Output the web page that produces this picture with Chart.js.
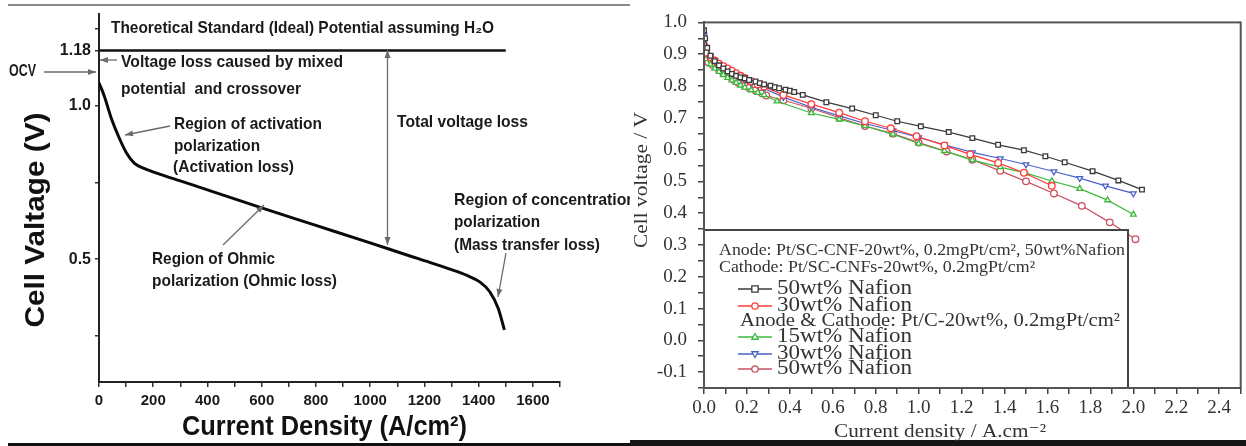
<!DOCTYPE html>
<html><head><meta charset="utf-8">
<script src="https://cdn.jsdelivr.net/npm/chart.js@4.4.1/dist/chart.umd.min.js"></script>
<style>
html,body{margin:0;padding:0;background:#fff;}
#wrap{position:relative;width:1246px;height:446px;overflow:hidden;background:#fff;}
#left{position:absolute;left:0;top:0;width:630px;height:446px;}
#right{position:absolute;left:630px;top:0;width:616px;height:446px;background:#fff;}
</style></head><body>
<div id="wrap">
<div id="left"><canvas id="c1" width="630" height="446"></canvas></div>
<div id="right"><canvas id="c2" width="616" height="446"></canvas></div>
</div>
<script>
// ---------- LEFT CHART DATA ----------
const leftCurrent = [0, 20, 45, 73, 102, 131, 170, 218, 300, 400, 600, 800, 1000, 1066, 1183, 1300, 1355, 1404, 1441, 1472, 1495];
const leftVoltage = [1.075, 1.03, 0.96, 0.898, 0.845, 0.812, 0.794, 0.779, 0.755, 0.726, 0.667, 0.61, 0.553, 0.534, 0.5, 0.466, 0.448, 0.426, 0.394, 0.34, 0.27];
const idealPotential = 1.18;
const idealCurrentRange = [0, 1500];
const leftYTickValues = [0.25, 0.5, 0.75, 1.0, 1.18, 1.25];
const leftYTickText = ['', '0.5', '', '1.0', '1.18', ''];

// ---------- RIGHT CHART DATA ----------
const scCnf50X = [0, 0.005, 0.015, 0.03, 0.05, 0.07, 0.09, 0.11, 0.13, 0.15, 0.17, 0.19, 0.21, 0.24, 0.26, 0.28, 0.31, 0.33, 0.35, 0.38, 0.40, 0.42, 0.46, 0.57, 0.69, 0.80, 0.90, 1.01, 1.14, 1.25, 1.37, 1.49, 1.59, 1.68, 1.81, 1.93, 2.04];
const scCnf50Y = [0.975, 0.95, 0.92, 0.895, 0.878, 0.865, 0.855, 0.846, 0.838, 0.832, 0.827, 0.824, 0.819, 0.814, 0.809, 0.805, 0.801, 0.796, 0.793, 0.788, 0.785, 0.781, 0.772, 0.749, 0.729, 0.708, 0.689, 0.673, 0.655, 0.636, 0.615, 0.598, 0.579, 0.56, 0.532, 0.503, 0.474];
const scCnf30X = [0, 0.01, 0.03, 0.05, 0.07, 0.09, 0.11, 0.13, 0.15, 0.17, 0.19, 0.22, 0.25, 0.28, 0.37, 0.50, 0.63, 0.75, 0.87, 0.99, 1.12, 1.24, 1.37, 1.49, 1.62];
const scCnf30Y = [0.93, 0.905, 0.89, 0.88, 0.87, 0.862, 0.855, 0.848, 0.84, 0.832, 0.825, 0.815, 0.805, 0.798, 0.772, 0.743, 0.716, 0.689, 0.667, 0.642, 0.613, 0.585, 0.558, 0.527, 0.486];
const ptc15X = [0, 0.01, 0.03, 0.05, 0.07, 0.09, 0.11, 0.13, 0.15, 0.17, 0.19, 0.22, 0.25, 0.28, 0.34, 0.50, 0.63, 0.75, 0.88, 1.00, 1.12, 1.25, 1.38, 1.50, 1.62, 1.75, 1.88, 2.00];
const ptc15Y = [0.917, 0.885, 0.868, 0.855, 0.845, 0.835, 0.826, 0.818, 0.81, 0.802, 0.795, 0.787, 0.779, 0.772, 0.752, 0.715, 0.695, 0.674, 0.648, 0.619, 0.596, 0.567, 0.545, 0.526, 0.501, 0.477, 0.441, 0.396];
const ptc30X = [0, 0.01, 0.03, 0.05, 0.07, 0.09, 0.11, 0.13, 0.15, 0.17, 0.19, 0.22, 0.25, 0.28, 0.37, 0.50, 0.63, 0.75, 0.88, 1.00, 1.12, 1.25, 1.38, 1.50, 1.63, 1.75, 1.87, 2.00];
const ptc30Y = [0.96, 0.92, 0.895, 0.88, 0.868, 0.858, 0.85, 0.842, 0.834, 0.826, 0.818, 0.808, 0.8, 0.792, 0.765, 0.733, 0.706, 0.682, 0.66, 0.638, 0.615, 0.591, 0.572, 0.553, 0.531, 0.51, 0.486, 0.462];
const ptc50X = [0, 0.01, 0.02, 0.04, 0.07, 0.09, 0.12, 0.14, 0.16, 0.19, 0.21, 0.24, 0.27, 0.29, 0.37, 0.50, 0.63, 0.75, 0.88, 1.00, 1.13, 1.25, 1.38, 1.50, 1.63, 1.76, 1.89, 2.01];
const ptc50Y = [0.9, 0.885, 0.875, 0.866, 0.85, 0.84, 0.829, 0.819, 0.81, 0.8, 0.794, 0.786, 0.777, 0.77, 0.755, 0.73, 0.70, 0.674, 0.65, 0.622, 0.594, 0.568, 0.533, 0.5, 0.462, 0.423, 0.371, 0.318];
const rightSeriesLabels = ['50wt% Nafion', '30wt% Nafion', '15wt% Nafion', '30wt% Nafion', '50wt% Nafion'];
const legendHeader1 = 'Anode: Pt/SC-CNF-20wt%, 0.2mgPt/cm², 50wt%Nafion';
const legendHeader2 = 'Cathode: Pt/SC-CNFs-20wt%, 0.2mgPt/cm²';
const legendHeader3 = 'Anode & Cathode: Pt/C-20wt%, 0.2mgPt/cm²';

function pts(xs, ys) { return xs.map((x, i) => ({ x: x, y: ys[i] })); }

function fitText(ctx, text, x, y, font, width, align, color) {
  ctx.save();
  ctx.font = font;
  ctx.fillStyle = color || '#1a1a1a';
  const w = ctx.measureText(text).width;
  const s = width ? width / w : 1;
  ctx.translate(x, y);
  ctx.scale(s, 1);
  ctx.textBaseline = 'middle';
  ctx.textAlign = align || 'left';
  ctx.fillText(text, 0, 0);
  ctx.restore();
}
function arrowHead(ctx, x, y, ang) {
  const L = 8, W = 3;
  ctx.beginPath();
  ctx.moveTo(x, y);
  ctx.lineTo(x - L * Math.cos(ang) + W * Math.sin(ang), y - L * Math.sin(ang) - W * Math.cos(ang));
  ctx.lineTo(x - L * Math.cos(ang) - W * Math.sin(ang), y - L * Math.sin(ang) + W * Math.cos(ang));
  ctx.closePath();
  ctx.fill();
}
function arrow(ctx, x1, y1, x2, y2, both) {
  ctx.save();
  ctx.strokeStyle = '#6a6a6a'; ctx.fillStyle = '#6a6a6a'; ctx.lineWidth = 1.3;
  ctx.beginPath(); ctx.moveTo(x1, y1); ctx.lineTo(x2, y2); ctx.stroke();
  const a = Math.atan2(y2 - y1, x2 - x1);
  arrowHead(ctx, x2, y2, a);
  if (both) arrowHead(ctx, x1, y1, a + Math.PI);
  ctx.restore();
}

const SANS = '"Liberation Sans", Arial, sans-serif';
const SERIF = '"Liberation Serif", "Times New Roman", "DejaVu Serif", serif';

// ---------- LEFT CHART ----------
const leftDecor = {
  id: 'leftDecor',
  afterDraw(chart) {
    const ctx = chart.ctx;
    ctx.save();
    ctx.strokeStyle = '#8a8a8a'; ctx.lineWidth = 2;
    ctx.beginPath(); ctx.moveTo(8, 5); ctx.lineTo(630, 5); ctx.stroke();
    ctx.strokeStyle = '#111'; ctx.lineWidth = 3;
    ctx.beginPath(); ctx.moveTo(8, 444.5); ctx.lineTo(630, 444.5); ctx.stroke();
    ctx.restore();
    const B = 'bold 17px ' + SANS;
    fitText(ctx, 'Theoretical Standard (Ideal) Potential assuming H₂O', 111, 28, B, 383);
    fitText(ctx, 'OCV', 9, 72, 'bold 16px ' + SANS, 27);
    arrow(ctx, 44, 72, 96, 72);
    fitText(ctx, 'Voltage loss caused by mixed', 121, 62, B, 222);
    arrow(ctx, 117, 60, 100, 60);
    fitText(ctx, 'potential  and crossover', 121, 89, B, 180);
    fitText(ctx, 'Region of activation', 174, 124, B, 148);
    fitText(ctx, 'polarization', 174, 146, B, 86);
    fitText(ctx, '(Activation loss)', 173, 167, B, 121);
    arrow(ctx, 170, 126, 125, 135);
    fitText(ctx, 'Total voltage loss', 397, 122, B, 131);
    arrow(ctx, 387.5, 50, 387.5, 245, true);
    fitText(ctx, 'Region of concentration', 454, 200, B, 182);
    fitText(ctx, 'polarization', 454, 222, B, 86);
    fitText(ctx, '(Mass transfer loss)', 454, 245, B, 146);
    arrow(ctx, 506, 253, 498, 297);
    fitText(ctx, 'Region of Ohmic', 152, 259, B, 123);
    fitText(ctx, 'polarization (Ohmic loss)', 152, 281, B, 185);
    arrow(ctx, 223, 245, 264, 205);
    ctx.save();
    ctx.translate(36, 220);
    ctx.rotate(-Math.PI / 2);
    fitText(ctx, 'Cell Valtage (V)', 0, 0, 'bold 28px ' + SANS, 215, 'center', '#111');
    ctx.restore();
    fitText(ctx, 'Current Density (A/cm²)', 324.5, 427, 'bold 28px ' + SANS, 285, 'center', '#111');
  }
};

new Chart(document.getElementById('c1'), {
  type: 'scatter',
  data: {
    datasets: [
      { data: pts(idealCurrentRange, [idealPotential, idealPotential]), showLine: true, borderColor: '#111', borderWidth: 2.5, pointRadius: 0 },
      { data: pts(leftCurrent, leftVoltage), showLine: true, borderColor: '#0a0a0a', borderWidth: 3, pointRadius: 0, cubicInterpolationMode: 'monotone' }
    ]
  },
  options: {
    responsive: false, animation: false,
    layout: { padding: { top: 9, right: 70, left: 0, bottom: 0 } },
    plugins: { legend: { display: false }, tooltip: { enabled: false } },
    scales: {
      x: {
        type: 'linear', min: 0, max: 1700,
        ticks: { stepSize: 100, autoSkip: false, maxRotation: 0, padding: 5,
          callback: v => (Math.round(v) % 200 === 0 ? String(Math.round(v)) : ''),
          font: { family: SANS, size: 15, weight: 'bold' }, color: '#1a1a1a' },
        grid: { drawOnChartArea: false, drawTicks: true, tickLength: 5, color: '#333', lineWidth: 1.5 },
        border: { color: '#222', width: 2 },
        afterFit: s => { s.height = 64; }
      },
      y: {
        type: 'linear', min: 0.1, max: 1.3,
        afterBuildTicks: s => { s.ticks = leftYTickValues.map(v => ({ value: v })); },
        ticks: { autoSkip: false, padding: 4,
          callback: (v, i) => leftYTickText[i],
          font: { family: SANS, size: 16, weight: 'bold' }, color: '#1a1a1a' },
        grid: { drawOnChartArea: false, drawTicks: true, tickLength: 4, color: '#333', lineWidth: 1.5 },
        border: { color: '#222', width: 2 },
        afterFit: s => { s.width = 99; }
      }
    }
  },
  plugins: [leftDecor]
});

// ---------- RIGHT CHART ----------
const rightStyles = [
  { color: '#3a3a3a', style: 'rect', rot: 0 },
  { color: '#ff3a3a', style: 'circle', rot: 0 },
  { color: '#3cb83c', style: 'triangle', rot: 0 },
  { color: '#4a62c8', style: 'triangle', rot: 180 },
  { color: '#c9505f', style: 'circle', rot: 0 }
];
const rightData = [pts(scCnf50X, scCnf50Y), pts(scCnf30X, scCnf30Y), pts(ptc15X, ptc15Y), pts(ptc30X, ptc30Y), pts(ptc50X, ptc50Y)];

function drawMarker(ctx, st, x, y, r) {
  ctx.save();
  ctx.strokeStyle = st.color; ctx.fillStyle = '#fff'; ctx.lineWidth = 1.3;
  ctx.beginPath();
  if (st.style === 'rect') {
    ctx.rect(x - r, y - r, 2 * r, 2 * r);
  } else if (st.style === 'circle') {
    ctx.arc(x, y, r, 0, Math.PI * 2);
  } else {
    const s = st.rot === 180 ? -1 : 1;
    ctx.moveTo(x, y - s * r * 1.1);
    ctx.lineTo(x + r, y + s * r * 0.7);
    ctx.lineTo(x - r, y + s * r * 0.7);
    ctx.closePath();
  }
  ctx.fill(); ctx.stroke();
  ctx.restore();
}

const rightDecor = {
  id: 'rightDecor',
  afterDatasetsDraw(chart) {
    const ctx = chart.ctx, ca = chart.chartArea;
    const bx = ca.left, by = 230, bw = 498 - ca.left, bh = ca.bottom - by;
    ctx.save();
    ctx.fillStyle = '#fff';
    ctx.fillRect(bx, by, bw, bh);
    ctx.strokeStyle = '#444'; ctx.lineWidth = 2;
    ctx.strokeRect(bx, by, bw, bh);
    ctx.restore();
    fitText(ctx, legendHeader1, 89, 251, '16px ' + SERIF, 406, 'left', '#333');
    fitText(ctx, legendHeader2, 89, 268, '16px ' + SERIF, 316, 'left', '#333');
    fitText(ctx, legendHeader3, 110, 321, '19px ' + SERIF, 380, 'left', '#333');
    const rows = [289, 306, 337, 354, 369];
    rows.forEach((ry, i) => {
      const st = rightStyles[i];
      ctx.save();
      ctx.strokeStyle = st.color; ctx.lineWidth = 1.5;
      ctx.beginPath(); ctx.moveTo(108, ry); ctx.lineTo(142, ry); ctx.stroke();
      ctx.restore();
      drawMarker(ctx, st, 125, ry, 3.2);
      fitText(ctx, rightSeriesLabels[i], 147, ry, '20px ' + SERIF, 135, 'left', '#333');
    });
  },
  afterDraw(chart) {
    const ctx = chart.ctx, ca = chart.chartArea;
    ctx.save();
    ctx.strokeStyle = '#555'; ctx.lineWidth = 2;
    ctx.strokeRect(ca.left, ca.top, ca.right - ca.left, ca.bottom - ca.top);
    ctx.fillStyle = '#161616';
    ctx.fillRect(0, 440, 616, 6);
    ctx.restore();
    ctx.save();
    ctx.translate(12, 180);
    ctx.rotate(-Math.PI / 2);
    fitText(ctx, 'Cell voltage / V', 0, 0, '19px ' + SERIF, 136, 'center', '#333');
    ctx.restore();
    fitText(ctx, 'Current density / A.cm⁻²', 310, 432, '19px ' + SERIF, 212, 'center', '#333');
  }
};

new Chart(document.getElementById('c2'), {
  type: 'scatter',
  data: {
    datasets: rightData.map((d, i) => ({
      label: rightSeriesLabels[i],
      data: d,
      showLine: true,
      borderColor: rightStyles[i].color,
      borderWidth: 1.2,
      pointStyle: rightStyles[i].style,
      rotation: rightStyles[i].rot,
      pointRadius: 3.3,
      pointBorderWidth: 1.3,
      pointBackgroundColor: '#fff',
      pointBorderColor: rightStyles[i].color
    }))
  },
  options: {
    responsive: false, animation: false,
    layout: { padding: { top: 17, right: 3, left: 0, bottom: 0 } },
    plugins: { legend: { display: false }, tooltip: { enabled: false } },
    scales: {
      x: {
        type: 'linear', min: 0, max: 2.5,
        ticks: { stepSize: 0.1, autoSkip: false, maxRotation: 0, padding: 3,
          callback: v => { const r = Math.round(v * 10); return r % 2 === 0 ? (r / 10).toFixed(1) : ''; },
          font: { family: SERIF, size: 19 }, color: '#333' },
        grid: { drawOnChartArea: false, drawTicks: true, tickLength: 6, color: '#444', lineWidth: 1.5 },
        border: { color: '#444', width: 2 },
        afterFit: s => { s.height = 58; }
      },
      y: {
        type: 'linear', min: -0.15, max: 1.0,
        ticks: { stepSize: 0.05, autoSkip: false, padding: 11,
          callback: v => { const r = Math.round(v * 100); return r % 10 === 0 ? (r / 100).toFixed(1) : ''; },
          font: { family: SERIF, size: 19 }, color: '#333' },
        grid: { drawOnChartArea: false, drawTicks: true, tickLength: 6, color: '#444', lineWidth: 1.5 },
        border: { color: '#444', width: 2 },
        afterFit: s => { s.width = 74; }
      }
    }
  },
  plugins: [rightDecor]
});
</script>
</body></html>
